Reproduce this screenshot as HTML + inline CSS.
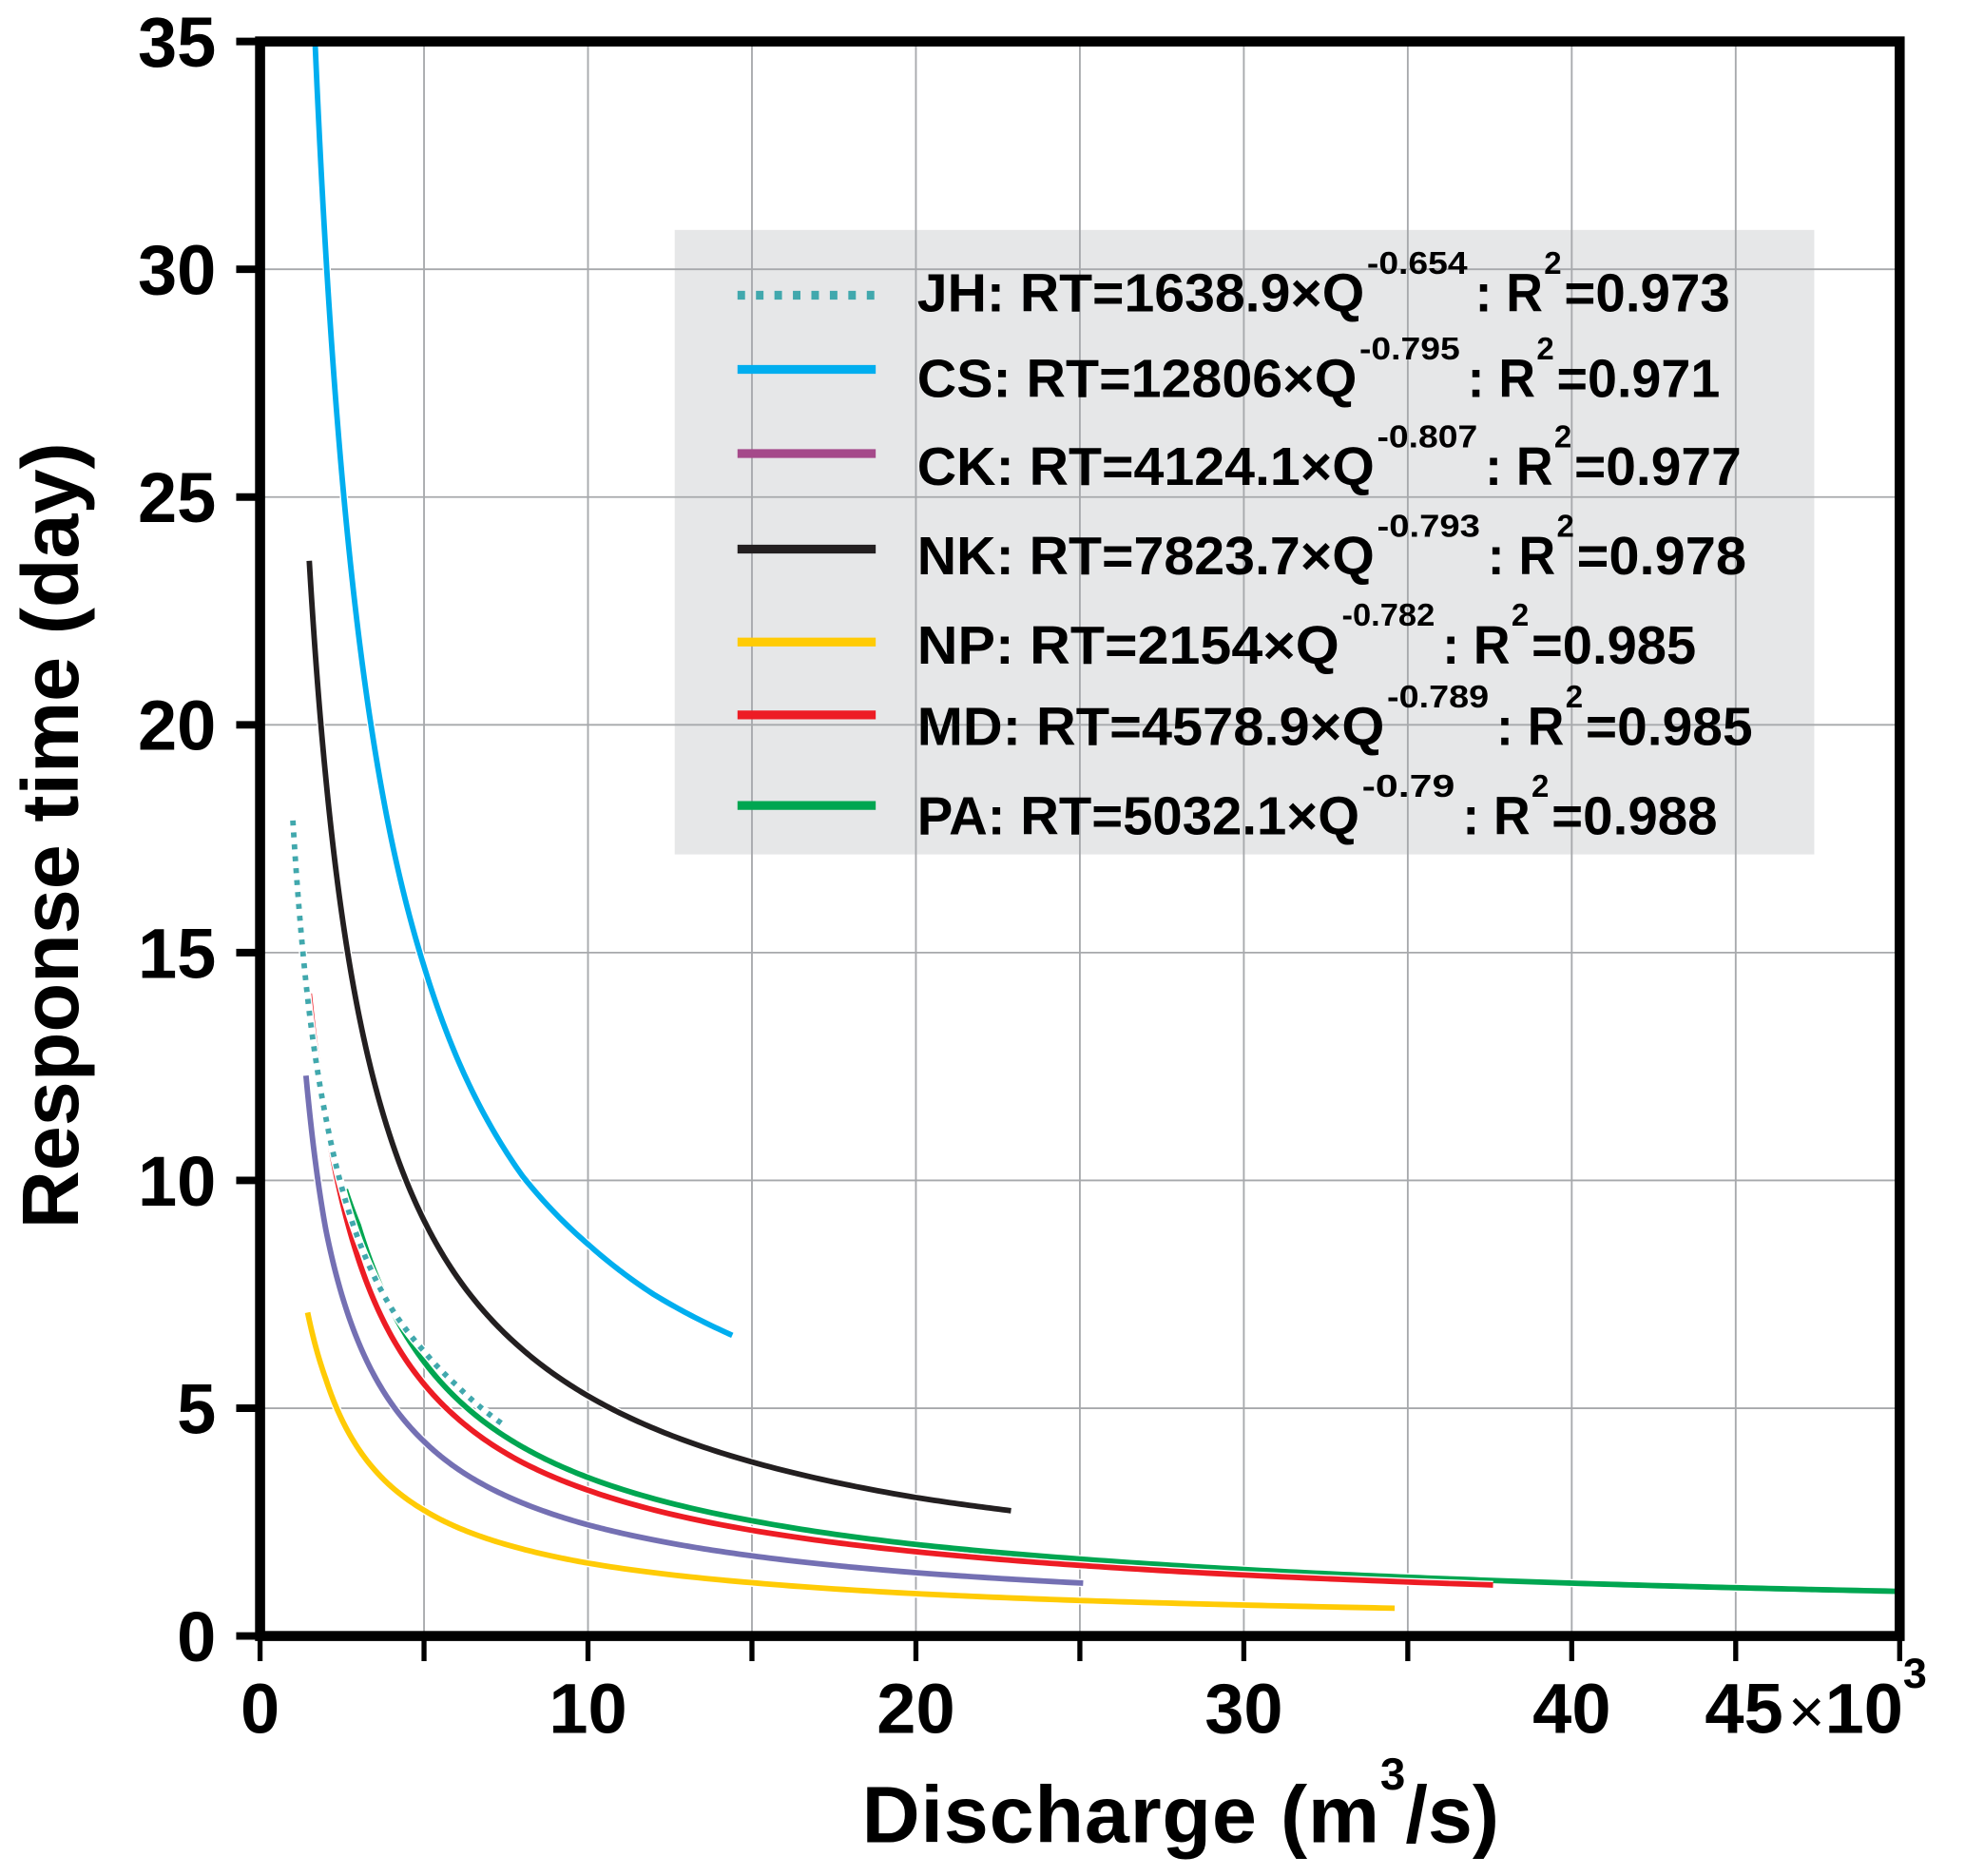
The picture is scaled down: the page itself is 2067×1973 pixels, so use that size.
<!DOCTYPE html>
<html><head><meta charset="utf-8"><style>
html,body{margin:0;padding:0;background:#fff}
svg{display:block}
text{font-family:"Liberation Sans",Arial,sans-serif;font-weight:bold;fill:#000}
</style></head><body>
<svg id="chart" width="2067" height="1973" viewBox="0 0 1564 1493" preserveAspectRatio="none" xmlns="http://www.w3.org/2000/svg">
<rect x="537" y="183" width="907" height="497" fill="#e6e7e8"/>
<g id="grid"></g>
<g id="curves"></g>
<g id="axes"></g>
<g id="legend"></g>
<text transform="translate(62,665) rotate(-90)" text-anchor="middle" font-size="64">Response time (day)</text>
<text x="686" y="1466" font-size="64"><tspan textLength="412">Discharge (m</tspan><tspan font-size="36" dy="-42">3</tspan><tspan dy="42">/s)</tspan></text>
</svg>
<script>
const xTicks = [0,5,10,15,20,25,30,35,40,45,50];
const xTickLabels = ["0","10","20","30","40"];
const xTickLabelVals = [0,10,20,30,40];
const yTicks = [0,5,10,15,20,25,30,35];
const yTickLabels = ["0","5","10","15","20","25","30","35"];

const jhQ  = [1.0,1.5,2,3,4,5,6,7.5];
const jhRT = [17.9,13.7,11.4,8.7,7.2,6.25,5.5,4.6];
const csQ  = [1.676,2,3,4,5,6,8,10,12,14.4];
const csRT = [35.0,30.4,22.0,17.5,14.7,12.7,10.1,8.6,7.5,6.6];
const ckQ  = [1.4,2,3,4,5,6,8,10,12,15,20,25.1];
const ckRT = [12.3,8.94,6.45,5.11,4.27,3.68,2.92,2.44,2.11,1.76,1.39,1.16];
const nkQ  = [1.5,2,3,4,5,6,8,10,12,15,20,22.9];
const nkRT = [23.6,18.87,13.68,10.89,9.12,7.89,6.29,5.27,4.56,3.82,3.04,2.75];
const npQ  = [1.45,2,3,4,5,6,8,10,15,20,25,30,34.6];
const npRT = [7.1,5.65,4.11,3.28,2.76,2.39,1.91,1.60,1.17,0.93,0.78,0.68,0.61];
const mdQ  = [1.5,2,3,4,5,6,8,10,15,20,25,30,37.6];
const mdRT = [14.1,11.38,8.27,6.59,5.53,4.79,3.81,3.20,2.32,1.85,1.55,1.34,1.12];
const paQ  = [2.6,3,4,5,6,8,10,15,20,25,30,35,40,45,50];
const paRT = [9.8,9.01,7.18,6.02,5.21,4.15,3.48,2.53,2.01,1.69,1.46,1.29,1.16,1.06,0.98];

const NS="http://www.w3.org/2000/svg";
const X0=207, X1=1512, Y0=1302, Y1=33;
function xS(q){return X0+(q/50)*(X1-X0);}
function yS(v){return Y0-(v/35)*(Y0-Y1);}
function mk(tag,attrs,parent){const e=document.createElementNS(NS,tag);for(const k in attrs)e.setAttribute(k,attrs[k]);parent.appendChild(e);return e;}
// interpolate between data points in log-log space (power-law rendering)
function pathD(qs,vs){
  let d="M"+xS(qs[0]).toFixed(2)+","+yS(vs[0]).toFixed(2);
  for(let i=0;i<qs.length-1;i++){
    const lq0=Math.log(qs[i]),lq1=Math.log(qs[i+1]),lv0=Math.log(vs[i]),lv1=Math.log(vs[i+1]);
    const n=24;
    for(let k=1;k<=n;k++){
      const t=k/n;
      const q=Math.exp(lq0+(lq1-lq0)*t), v=Math.exp(lv0+(lv1-lv0)*t);
      d+="L"+xS(q).toFixed(2)+","+yS(v).toFixed(2);
    }
  }
  return d;
}
const grid=document.getElementById('grid');
xTicks.forEach(t=>{if(t===0||t===50)return;
  const l=mk('line',{x1:xS(t),x2:xS(t),y1:Y1,y2:Y0,stroke:'#a7a9ac','stroke-width':1.4},grid);
  
  
});
yTicks.forEach(t=>{if(t===0||t===35)return;
  const l=mk('line',{x1:X0,x2:X1,y1:yS(t),y2:yS(t),stroke:'#a7a9ac','stroke-width':1.4},grid);
  
  
});
const curves=document.getElementById('curves');
const series=[
 {n:'pa',q:paQ,v:paRT,c:'#00a651'},
 {n:'md',q:mdQ,v:mdRT,c:'#ed1c24'},
 {n:'np',q:npQ,v:npRT,c:'#ffcb05'},
 {n:'ck',q:ckQ,v:ckRT,c:'#7470b3'},
 {n:'nk',q:nkQ,v:nkRT,c:'#231f20'},
 {n:'cs',q:csQ,v:csRT,c:'#00aeef'},
 {n:'jh',q:jhQ,v:jhRT,c:'#41a8ad',dash:'4 5.5'}
];
series.forEach(s=>{
  const d=pathD(s.q,s.v);
  const h=mk('path',{d:d,fill:'none',stroke:'#fff','stroke-width':6.5},curves);
  
  
  const a={d:d,fill:'none',stroke:s.c,'stroke-width':4.4};
  if(s.dash)a['stroke-dasharray']=s.dash;
  const p=mk('path',a,curves);
  
  
});
const axes=document.getElementById('axes');
const fr=mk('rect',{x:X0,y:Y1,width:X1-X0,height:Y0-Y1,fill:'none',stroke:'#000','stroke-width':8},axes);


xTicks.forEach(t=>{
  const l=mk('line',{x1:xS(t),x2:xS(t),y1:Y0,y2:1322,stroke:'#000','stroke-width':4},axes);
  
  
});
xTickLabelVals.forEach((t,i)=>{
  const e=mk('text',{x:xS(t),y:1379,'text-anchor':'middle','font-size':56},axes);
  e.textContent=xTickLabels[i];
  
  
});
const lastLbl=mk('text',{x:1357,y:1379,'font-size':56},axes);
lastLbl.innerHTML='45<tspan font-weight="normal" font-size="50" dx="4">×</tspan>10<tspan font-size="34" dy="-36">3</tspan>';


yTicks.forEach((t,i)=>{
  const l=mk('line',{x1:188,x2:X0,y1:yS(t),y2:yS(t),stroke:'#000','stroke-width':6},axes);
  
  
  const e=mk('text',{x:172,y:yS(t)+20,'text-anchor':'end','font-size':56},axes);
  e.textContent=yTickLabels[i];
  
  
});
const legend=document.getElementById('legend');
const legRows=[
 {n:'jh',main:'JH: RT=1638.9×Q',sup:'-0.654',r:'=0.973',c:'#41a8ad',dash:'6 8.7',ly:235,by:248,me:1086,se:1168,end:1377},
 {n:'cs',main:'CS: RT=12806×Q',sup:'-0.795',r:'=0.971',c:'#00aeef',ly:294,by:316,me:1080,se:1162,end:1369},
 {n:'ck',main:'CK: RT=4124.1×Q',sup:'-0.807',r:'=0.977',c:'#a54a8a',ly:361,by:386,me:1094,se:1176,end:1386},
 {n:'nk',main:'NK: RT=7823.7×Q',sup:'-0.793',r:'=0.978',c:'#231f20',ly:437,by:457,me:1094,se:1178,end:1390},
 {n:'np',main:'NP: RT=2154×Q',sup:'-0.782',r:'=0.985',c:'#ffcb05',ly:511,by:528,me:1066,se:1142,end:1350},
 {n:'md',main:'MD: RT=4578.9×Q',sup:'-0.789',r:'=0.985',c:'#ed1c24',ly:569,by:593,me:1102,se:1185,end:1395},
 {n:'pa',main:'PA: RT=5032.1×Q',sup:'-0.79',r:'=0.988',c:'#00a651',ly:641,by:664,me:1082,se:1158,end:1367}
];
legRows.forEach(r=>{
  const la={x1:587,x2:697,y1:r.ly,y2:r.ly,stroke:r.c,'stroke-width':7};
  if(r.dash)la['stroke-dasharray']=r.dash;
  const l=mk('line',la,legend);
  
  
  const g=mk('g',{},legend);
  
  
  const t1=mk('text',{x:730,y:r.by,'font-size':43,textLength:r.me-730,lengthAdjust:'spacingAndGlyphs'},g);
  t1.textContent=r.main;
  const t2=mk('text',{x:r.me+2,y:r.by-30,'font-size':25,textLength:r.se-r.me-2,lengthAdjust:'spacingAndGlyphs'},g);
  t2.textContent=r.sup;
  const t3=mk('text',{x:r.se+6,y:r.by,'font-size':43,textLength:54,lengthAdjust:'spacingAndGlyphs'},g);
  t3.textContent=': R';
  const t4=mk('text',{x:r.se+61,y:r.by-30,'font-size':25},g);
  t4.textContent='2';
  const t5=mk('text',{x:r.se+77,y:r.by,'font-size':43,textLength:r.end-r.se-77,lengthAdjust:'spacingAndGlyphs'},g);
  t5.textContent=r.r;
});
</script>
</body></html>
